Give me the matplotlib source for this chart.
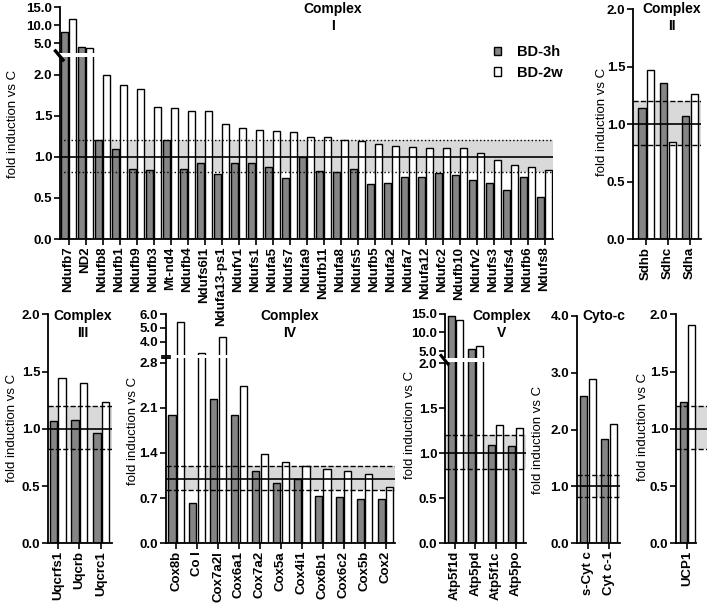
import matplotlib

matplotlib.use("Agg")
import matplotlib.pyplot as plt
import numpy as np
from matplotlib.lines import Line2D
from matplotlib.patches import Patch, Rectangle

plt.rcParams["font.family"] = ["Liberation Sans", "DejaVu Sans"]
plt.rcParams["font.weight"] = "bold"

W, H = 709, 604
GREY, BAND = "#858585", "#d9d9d9"

# ---- data (fold induction vs C) ----
c1_genes = ["Ndufb7", "ND2", "Ndufb8", "Ndufb1", "Ndufb9", "Ndufb3", "Mt-nd4", "Ndufb4",
            "Ndufs6l1", "Ndufa13-ps1", "Ndufv1", "Ndufs1", "Ndufa5", "Ndufs7", "Ndufa9",
            "Ndufb11", "Ndufa8", "Ndufs5", "Ndufb5", "Ndufa2", "Ndufa7", "Ndufa12", "Ndufc2",
            "Ndufb10", "Ndufv2", "Ndufs3", "Ndufs4", "Ndufb6", "Ndufs8"]
c1_3h = [8.2, 4.05, 1.21, 1.10, 0.85, 0.84, 1.21, 0.85, 0.92, 0.79, 0.92, 0.92, 0.88, 0.74,
         1.0, 0.83, 0.82, 0.85, 0.67, 0.68, 0.76, 0.76, 0.80, 0.78, 0.72, 0.68, 0.59, 0.76, 0.51]
c1_2w = [11.7, 3.7, 2.0, 1.87, 1.82, 1.6, 1.59, 1.56, 1.56, 1.40, 1.345, 1.325, 1.31, 1.30,
         1.24, 1.24, 1.21, 1.19, 1.16, 1.135, 1.12, 1.11, 1.11, 1.11, 1.05, 0.96, 0.90, 0.88, 0.84]

c2_genes = ["Sdhb", "Sdhc", "Sdha"]
c2_3h = [1.14, 1.36, 1.07]
c2_2w = [1.47, 0.85, 1.26]

c3_genes = ["Uqcrfs1", "Uqcrb", "Uqcrc1"]
c3_3h = [1.065, 1.08, 0.965]
c3_2w = [1.44, 1.40, 1.23]

c4_genes = ["Cox8b", "Co I", "Cox7a2l", "Cox6a1", "Cox7a2", "Cox5a", "Cox4i1", "Cox6b1",
            "Cox6c2", "Cox5b", "Cox2"]
c4_3h = [1.99, 0.62, 2.24, 1.99, 1.12, 0.93, 1.0, 0.74, 0.72, 0.69, 0.68]
c4_2w = [5.46, 3.2, 4.36, 2.44, 1.38, 1.26, 1.20, 1.15, 1.12, 1.08, 0.87]

c5_genes = ["Atp5f1d", "Atp5pd", "Atp5f1c", "Atp5po"]
c5_3h = [14.4, 5.7, 1.09, 1.08]
c5_2w = [13.4, 6.4, 1.31, 1.28]

cyt_genes = ["s-Cyt c", "Cyt c-1"]
cyt_3h = [2.59, 1.84]
cyt_2w = [2.88, 2.09]

ucp_genes = ["UCP1"]
ucp_3h = [1.23]
ucp_2w = [1.91]


fig = plt.figure(figsize=(W / 100, H / 100), dpi=100)


def add_ax(x0, x1, ytop, ybot):
    # pixel box -> figure axes
    return fig.add_axes([x0 / W, 1 - ybot / H, (x1 - x0) / W, (ybot - ytop) / H])


def style(ax, upper=False):
    for s in ("top", "right"):
        ax.spines[s].set_visible(False)
    ax.spines["left"].set_linewidth(1.3)
    ax.spines["bottom"].set_linewidth(1.3)
    ax.tick_params(direction="out", length=4, width=1.2, labelsize=9.5, pad=1.5)
    ax.yaxis.set_major_formatter(matplotlib.ticker.FormatStrFormatter("%.1f"))
    if upper:
        ax.spines["bottom"].set_visible(False)
        ax.tick_params(axis="x", bottom=False, labelbottom=False)
    ax.patch.set_alpha(0)


def bars(ax, genes, v3h, v2w, w, off, labels=True):
    x = np.arange(len(genes))
    ax.bar(x - off, v3h, w, color=GREY, edgecolor="black", lw=1.0, zorder=2)
    ax.bar(x + off, v2w, w, color="white", edgecolor="black", lw=1.0, zorder=2)
    ax.set_xticks(x)
    if labels:
        ax.set_xticklabels(genes, rotation=90)


def band(ax, ls="--"):
    ax.axhspan(0.82, 1.2, color=BAND, lw=0, zorder=0)
    ax.axhline(1.0, color="black", lw=1.2, zorder=3)
    ax.axhline(1.2, color="black", lw=1.0, ls=ls, zorder=3)
    ax.axhline(0.82, color="black", lw=1.0, ls=ls, zorder=3)


def pline(xs, ys, lw=1.8):
    fig.add_artist(Line2D([x / W for x in xs], [1 - y / H for y in ys],
                          color="black", lw=lw, transform=fig.transFigure, zorder=10))


def gap(x0, x1, y0, y1):
    fig.add_artist(Rectangle((x0 / W, 1 - y1 / H), (x1 - x0) / W, (y1 - y0) / H,
                             facecolor="white", edgecolor="none",
                             transform=fig.transFigure, zorder=9))


def ylab(x, y):
    fig.text(x / W, 1 - y / H, "fold induction vs C", rotation=90, ha="center",
             va="center", fontsize=9.5, fontweight="normal")


def title(x, y, s):
    fig.text(x / W, 1 - y / H, s, ha="center", va="top", fontsize=10,
             fontweight="bold", linespacing=1.25)


# ---- Complex I (broken axis) ----
ax = add_ax(60, 553, 57, 239)
bars(ax, c1_genes, c1_3h, c1_2w, 0.44, 0.24)
band(ax, ":")
ax.set_xlim(-0.5, 28.5)
ax.set_ylim(0, 2.214)
ax.set_yticks([0, 0.5, 1.0, 1.5, 2.0])
style(ax)
ax.legend([Patch(facecolor=GREY, edgecolor="black"), Patch(facecolor="white", edgecolor="black")],
          ["BD-3h", "BD-2w"], loc="upper left", bbox_to_anchor=(494 / W, 1 - 45 / H),
          bbox_transform=fig.transFigure, frameon=False, fontsize=10.5, borderpad=0,
          borderaxespad=0, handlelength=0.5, handleheight=0.5, handletextpad=1.05,
          labelspacing=0.45)

ax = add_ax(60, 553, 6.6, 53)
bars(ax, c1_genes, c1_3h, c1_2w, 0.44, 0.24, labels=False)
ax.set_xlim(-0.5, 28.5)
ax.set_ylim(2.3, 15.2)
ax.set_yticks([5, 10, 15])
style(ax, upper=True)
gap(55, 93, 52.7, 57.3)
pline([55.5, 63], [51, 60], lw=2.4)
ylab(13, 124)
title(333, 2, "Complex\nI")

# ---- Complex II ----
ax = add_ax(633, 701, 9.3, 239.3)
bars(ax, c2_genes, c2_3h, c2_2w, 0.34, 0.2)
band(ax)
ax.set_xlim(-0.6, 2.5)
ax.set_ylim(0, 2.0)
ax.set_yticks([0, 0.5, 1.0, 1.5, 2.0])
style(ax)
ylab(602, 122)
title(672, 2, "Complex\nII")

# ---- Complex III ----
ax = add_ax(48, 112, 314.3, 543.3)
bars(ax, c3_genes, c3_3h, c3_2w, 0.34, 0.2)
band(ax)
ax.set_xlim(-0.45, 2.5)
ax.set_ylim(0, 2.0)
ax.set_yticks([0, 0.5, 1.0, 1.5, 2.0])
style(ax)
ylab(12, 428)
title(83, 309, "Complex\nIII")

# ---- Complex IV (broken axis) ----
ax = add_ax(165.7, 395, 358, 543.3)
bars(ax, c4_genes, c4_3h, c4_2w, 0.34, 0.2)
band(ax)
ax.set_xlim(-0.5, 10.45)
ax.set_ylim(0, 2.87)
ax.set_yticks([0, 0.7, 1.4, 2.1, 2.8])
style(ax)

ax = add_ax(165.7, 395, 314.3, 355.4)
bars(ax, c4_genes, c4_3h, c4_2w, 0.34, 0.2, labels=False)
ax.set_xlim(-0.5, 10.45)
ax.set_ylim(3.0, 6.0)
ax.set_yticks([4, 5, 6])
style(ax, upper=True)
pline([161.5, 169.5], [355.6, 355.6], lw=1.3)
pline([161.5, 169.5], [358.4, 358.4], lw=1.3)
ylab(133, 431)
title(290, 309, "Complex\nIV")

# ---- Complex V (broken axis) ----
ax = add_ax(445, 526, 362, 543.3)
bars(ax, c5_genes, c5_3h, c5_2w, 0.34, 0.2)
band(ax)
ax.set_xlim(-0.5, 3.5)
ax.set_ylim(0, 2.014)
ax.set_yticks([0, 0.5, 1.0, 1.5, 2.0])
style(ax)

ax = add_ax(445, 526, 313.5, 358)
bars(ax, c5_genes, c5_3h, c5_2w, 0.34, 0.2, labels=False)
ax.set_xlim(-0.5, 3.5)
ax.set_ylim(3.2, 15.0)
ax.set_yticks([5, 10, 15])
style(ax, upper=True)
gap(443, 482, 357.8, 362.2)
pline([441, 448], [355.5, 364], lw=2.2)
ylab(410, 425)
title(502, 309, "Complex\nV")

# ---- Cyto-c ----
ax = add_ax(576.7, 620, 315.7, 543.3)
bars(ax, cyt_genes, cyt_3h, cyt_2w, 0.34, 0.2)
band(ax)
ax.set_xlim(-0.54, 1.52)
ax.set_ylim(0, 4.0)
ax.set_yticks([0, 1.0, 2.0, 3.0, 4.0])
style(ax)
ylab(538, 440)
title(604, 309, "Cyto-c")

# ---- UCP1 ----
ax = add_ax(676, 707, 314.3, 543.3)
bars(ax, ucp_genes, ucp_3h, ucp_2w, 0.34, 0.2)
band(ax)
ax.set_xlim(-0.55, 0.95)
ax.set_ylim(0, 2.0)
ax.set_yticks([0, 0.5, 1.0, 1.5, 2.0])
style(ax)
ax.spines["bottom"].set_bounds(-0.55, 0.42)
ylab(643, 427)

fig.savefig("out.png", dpi=100)
